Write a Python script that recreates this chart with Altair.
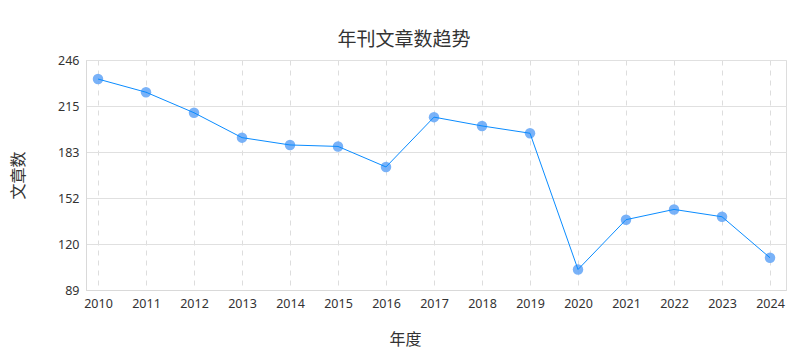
import altair as alt
import pandas as pd

years = [2010, 2011, 2012, 2013, 2014, 2015, 2016, 2017, 2018, 2019, 2020, 2021, 2022, 2023, 2024]
counts = [233, 224, 210, 193, 188, 187, 173, 207, 201, 196, 103, 137, 144, 139, 111]
y_ticks = [89, 120.4, 151.8, 183.2, 214.6, 246]

df = pd.DataFrame({"year": years, "count": counts})

FONT = "Noto Sans CJK SC"
NUMFONT = "Noto Sans"

x = alt.X(
    "year:Q",
    scale=alt.Scale(domain=[2009.75, 2024.333], nice=False, zero=False),
    axis=alt.Axis(
        title="年度",
        values=years,
        format="d",
        grid=True,
        gridDash=[5, 5],
        gridColor="#dddddd",
        domain=True,
        domainColor="#d9d9d9",
        ticks=False,
        labelPadding=7,
        labelFontSize=12.5,
        labelColor="#333333",
        labelFont=NUMFONT,
        titleFont=FONT,
        titleFontSize=16,
        titleFontWeight="normal",
        titleColor="#333333",
        titleX=319,
        titleY=49,
        titleBaseline="middle",
    ),
)
y = alt.Y(
    "count:Q",
    scale=alt.Scale(domain=[89, 246], nice=False, zero=False),
    axis=alt.Axis(
        title="文章数",
        values=y_ticks,
        labelExpr="format(round(datum.value), 'd')",
        grid=True,
        gridColor="#e0e0e0",
        domain=True,
        domainColor="#d9d9d9",
        ticks=False,
        labelPadding=7,
        labelFontSize=12.5,
        labelColor="#333333",
        labelFont=NUMFONT,
        titleFont=FONT,
        titleFontSize=16,
        titleFontWeight="normal",
        titleColor="#333333",
        titleX=-68,
        titleY=115,
        titleAngle=-90,
        titleAlign="center",
        titleBaseline="middle",
    ),
)

base = alt.Chart(df)
points = base.mark_circle(size=110, color="#6aaaf7", opacity=0.9).encode(x=x, y=y)
line = base.mark_line(color="#0a8cff", strokeWidth=1).encode(x=x, y=y)

chart = (
    alt.layer(points, line)
    .properties(
        width=700,
        height=230,
        autosize=alt.AutoSizeParams(type="none"),
        padding={"left": 86, "top": 60, "right": 24, "bottom": 70},
        title=alt.TitleParams(
            "年刊文章数趋势",
            font=FONT,
            fontSize=19,
            fontWeight="normal",
            color="#333333",
            anchor="middle",
            dx=-32,
            offset=4,
        ),
    )
    .configure_view(stroke=None)
    .configure(background="white")
)

chart.save("out.html", embed_options={"renderer": "svg", "actions": False})
